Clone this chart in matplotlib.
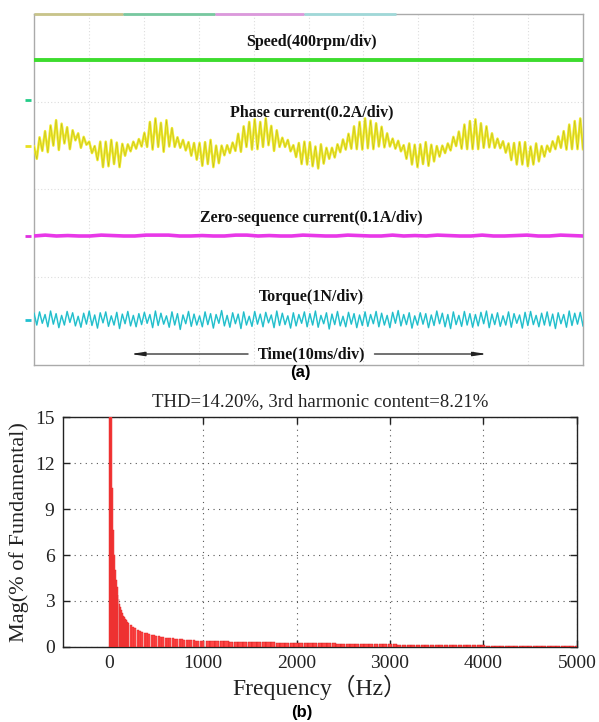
import numpy as np
import matplotlib
matplotlib.use("Agg")
import matplotlib.pyplot as plt

# ---------------- data: panel (a) oscilloscope traces (units: divisions) ----------------
speed_level = 6.95
marker_levels = [6.04, 5.0, 2.94, 1.03]
marker_colors = ["#22cc88", "#e8e020", "#e030e0", "#20c0d0"]

phase_center = 5.0
phase_offsets = [
    -0.02, -0.30, 0.19, -0.12, 0.33, -0.15, 0.46, 0.00, 0.58, -0.10, 0.50, 0.05, 0.42, -0.08, 0.35, 0.12, 0.28, -0.05, 0.20, 0.02,
    0.09, -0.17, -0.01, -0.33, 0.09, -0.49, 0.09, -0.47, 0.13, -0.42, 0.07, -0.49, 0.04, -0.23, 0.03, -0.13, 0.09, -0.07, 0.15, -0.02,
    0.29, -0.03, 0.54, -0.09, 0.62, -0.03, 0.52, -0.14, 0.58, -0.02, 0.40, -0.03, 0.19, -0.05, 0.13, -0.11, 0.08, -0.23, 0.06, -0.32,
    0.06, -0.46, 0.08, -0.42, 0.13, -0.49, 0.00, -0.40, 0.00, -0.22, 0.01, -0.17, 0.07, -0.12, 0.27, -0.14, 0.44, -0.03, 0.54, -0.09,
    0.60, -0.08, 0.54, -0.03, 0.62, 0.01, 0.45, -0.12, 0.35, -0.03, 0.18, -0.03, 0.13, -0.13, 0.01, -0.26, 0.06, -0.42, 0.09, -0.43,
    0.08, -0.47, -0.02, -0.52, 0.03, -0.41, -0.05, -0.30, -0.05, -0.27, 0.03, -0.15, 0.14, -0.09, 0.27, -0.07, 0.44, -0.08, 0.54, -0.09,
    0.62, -0.06, 0.57, -0.08, 0.51, -0.02, 0.43, -0.04, 0.28, -0.02, 0.16, -0.07, 0.11, -0.13, 0.01, -0.30, 0.05, -0.43, 0.02, -0.49,
    0.03, -0.42, 0.08, -0.46, 0.02, -0.36, -0.01, -0.25, 0.00, -0.17, 0.05, -0.11, 0.20, -0.01, 0.32, -0.07, 0.48, -0.08, 0.56, -0.08,
    0.60, -0.08, 0.51, -0.05, 0.44, -0.04, 0.28, -0.05, 0.16, -0.06, 0.10, -0.16, 0.05, -0.33, 0.06, -0.43, 0.08, -0.43, 0.08, -0.47,
    -0.02, -0.43, 0.05, -0.36, -0.01, -0.25, 0.00, -0.14, 0.10, -0.08, 0.21, -0.05, 0.33, -0.09, 0.48, -0.08, 0.56, -0.08, 0.62, -0.08,
]

zero_center = 2.94
zero_offsets = [
    0, 0.02, 0, 0.01, 0, 0, 0.02, 0.01, 0, 0, 0.02, 0.02, 0.02, 0, 0, 0.01, 0, 0, 0.02, 0.02,
    0, 0.01, 0, 0, 0.02, 0.01, 0, 0, 0.02, 0.01, 0, 0, 0.02, 0, 0.01, 0, 0.02, 0.01, 0, 0,
    0.02, 0, 0, 0.01, 0.02, 0, 0, 0.02, 0.01, 0,
]

torque_center = 1.03
torque_offsets = [
    0.15, -0.12, 0.18, -0.08, 0.12, -0.16, 0.20, -0.10, 0.14, -0.18, 0.10, -0.12, 0.19, -0.06, 0.16, -0.14, 0.08, -0.17, 0.15, -0.10,
    0.20, -0.13, 0.11, -0.19, 0.16, -0.07, 0.18, -0.15, 0.09, -0.12, 0.17, -0.20, 0.13, -0.09, 0.19, -0.14, 0.10, -0.16, 0.14, -0.11,
    0.17, -0.08, 0.12, -0.18, 0.20, -0.13, 0.15, -0.10, 0.09, -0.17, 0.18, -0.12, 0.14, -0.22, 0.11, -0.09, 0.19, -0.15, 0.13, -0.12,
    0.09, -0.16, 0.18, -0.11, 0.14, -0.19, 0.12, -0.08, 0.21, -0.14, 0.10, -0.17, 0.16, -0.09, 0.13, -0.20, 0.18, -0.12, 0.08, -0.15,
    0.19, -0.10, 0.13, -0.16, 0.17, -0.07, 0.11, -0.18, 0.20, -0.13, 0.15, -0.11, 0.09, -0.19, 0.16, -0.14, 0.12, -0.08, 0.18, -0.16,
    0.14, -0.12, 0.20, -0.17, 0.10, -0.09, 0.16, -0.21, 0.13, -0.11, 0.19, -0.14, 0.08, -0.16, 0.17, -0.10, 0.14, -0.18, 0.11, -0.13,
    0.18, -0.15, 0.12, -0.09, 0.19, -0.16, 0.15, -0.12, 0.10, -0.18, 0.17, -0.08, 0.21, -0.14, 0.12, -0.11, 0.16, -0.19, 0.09, -0.12,
    0.16, -0.10, 0.14, -0.18, 0.11, -0.13, 0.20, -0.09, 0.15, -0.16, 0.12, -0.20, 0.18, -0.11, 0.10, -0.15, 0.19, -0.12, 0.14, -0.17,
    0.12, -0.14, 0.17, -0.09, 0.20, -0.18, 0.13, -0.11, 0.16, -0.15, 0.09, -0.12, 0.18, -0.17, 0.14, -0.08, 0.11, -0.19, 0.17, -0.13,
    0.19, -0.11, 0.10, -0.16, 0.15, -0.12, 0.18, -0.14, 0.13, -0.20, 0.16, -0.09, 0.12, -0.17, 0.20, -0.13, 0.15, -0.10, 0.17, -0.14,
]

trace_labels = ["Speed(400rpm/div)", "Phase current(0.2A/div)",
                "Zero-sequence current(0.1A/div)", "Torque(1N/div)"]
label_levels = [7.36, 5.76, 3.35, 1.55]
time_label = "Time(10ms/div)"

# ---------------- data: panel (b) harmonic spectrum ----------------
freq_low = np.arange(0, 201, 10)
mag_low = [20.0, 100.0, 30.0, 10.4, 7.6, 6.0, 5.0, 4.4, 3.9, 3.4, 3.1,
           2.8, 2.6, 2.4, 2.2, 2.05, 1.95, 1.85, 1.75, 1.65, 1.55]
freq_mid = np.arange(225, 1001, 25)
mag_mid = [1.45, 1.32, 1.22, 1.12, 1.06, 0.98, 0.94, 0.88, 0.83, 0.79,
           0.76, 0.72, 0.70, 0.66, 0.64, 0.61, 0.60, 0.57, 0.56, 0.53,
           0.52, 0.50, 0.49, 0.48, 0.47, 0.45, 0.45, 0.43, 0.42, 0.42,
           0.41, 0.40]
freq_high = np.arange(1050, 5001, 50)
mag_high = [0.39, 0.38, 0.37, 0.37, 0.36, 0.35, 0.35, 0.34, 0.33, 0.33,
            0.32, 0.31, 0.31, 0.30, 0.30, 0.29, 0.28, 0.28, 0.27, 0.27,
            0.26, 0.26, 0.25, 0.25, 0.24, 0.24, 0.23, 0.23, 0.22, 0.22,
            0.21, 0.21, 0.20, 0.20, 0.19, 0.19, 0.18, 0.18, 0.18, 0.17,
            0.17, 0.16, 0.16, 0.15, 0.15, 0.15, 0.14, 0.14, 0.13, 0.13,
            0.13, 0.12, 0.12, 0.12, 0.11, 0.11, 0.11, 0.10, 0.10, 0.10,
            0.09, 0.09, 0.09, 0.09, 0.08, 0.08, 0.08, 0.08, 0.07, 0.07,
            0.07, 0.07, 0.06, 0.06, 0.06, 0.06, 0.06, 0.05, 0.05, 0.05]
x_ticks = [0, 1000, 2000, 3000, 4000, 5000]
y_ticks = [0, 3, 6, 9, 12, 15]
title_b = "THD=14.20%, 3rd harmonic content=8.21%"

# ---------------- figure ----------------
fig = plt.figure(figsize=(5.99, 7.22), dpi=100)
serif = ["Liberation Serif", "DejaVu Serif"]

# ---- panel (a) ----
axa = fig.add_axes([0.0568, 0.4945, 0.9165, 0.4861])
axa.set_xlim(0, 100)
axa.set_ylim(0, 8)
axa.set_xticks([])
axa.set_yticks([])
for s in axa.spines.values():
    s.set_color("#aaaaaa")
    s.set_linewidth(1.0)
for x in range(10, 100, 10):
    axa.axvline(x, color="#dddddd", lw=0.8, ls=(0, (1, 2)), zorder=0)
for y in (2, 4, 6):
    axa.axhline(y, color="#dddddd", lw=0.8, ls=(0, (1, 2)), zorder=0)

# top colour strip
strip = [(0, 16.2, "#c8c48a"), (16.2, 33.0, "#78c8a0"), (33.0, 49.2, "#dc98dc"), (49.2, 66.0, "#a0d8d8")]
for x0, x1, c in strip:
    axa.plot([x0, x1], [8, 8], color=c, lw=2.0, clip_on=False, zorder=5, solid_capstyle="butt")

t_speed = np.array([0, 100])
axa.plot(t_speed, [speed_level, speed_level], color="#3ddc2e", lw=2.8, zorder=3)

t_phase = np.linspace(0, 100, len(phase_offsets))
phase = phase_center + np.array(phase_offsets)
axa.plot(t_phase, phase, color="#efe92a", lw=1.8, zorder=3)
axa.plot(t_phase, phase, color="#5a5a10", lw=0.3, alpha=0.4, zorder=4)

t_zero = np.linspace(0, 100, len(zero_offsets))
zero = zero_center + np.array(zero_offsets)
axa.plot(t_zero, zero, color="#e838e8", lw=2.6, zorder=3)

t_torque = np.linspace(0, 100, len(torque_offsets))
torque = torque_center + np.array(torque_offsets)
axa.plot(t_torque, torque, color="#30d0dc", lw=1.1, zorder=3)
axa.plot(t_torque, torque, color="#107080", lw=0.25, alpha=0.5, zorder=4)

for lvl, c in zip(marker_levels, marker_colors):
    axa.plot([-1.6, -0.6], [lvl, lvl], color=c, lw=2.0, clip_on=False, solid_capstyle="butt")

for txt, lvl in zip(trace_labels, label_levels):
    axa.text(50.5, lvl, txt, ha="center", va="center", fontsize=11.5,
             fontweight="bold", family=serif, color="#111111", zorder=6)

axa.text(50.5, 0.25, time_label, ha="center", va="center", fontsize=11.5,
         fontweight="bold", family=serif, color="#111111", zorder=6)
axa.annotate("", xy=(17.1, 0.25), xytext=(39.5, 0.25),
             arrowprops=dict(arrowstyle="-|>,head_length=0.8,head_width=0.12", color="#222222", lw=0.9))
axa.annotate("", xy=(83.0, 0.25), xytext=(61.5, 0.25),
             arrowprops=dict(arrowstyle="-|>,head_length=0.8,head_width=0.12", color="#222222", lw=0.9))

fig.text(0.501, 1 - 372 / 722, "(a)", ha="center", va="center", fontsize=12,
         fontweight="bold", family=["Liberation Sans", "DejaVu Sans"])

# ---- panel (b) ----
axb = fig.add_axes([0.105, 0.1039, 0.858, 0.3185])
axb.bar(freq_low, mag_low, width=9.5, color="#ff4646", edgecolor="#e02020", linewidth=0.3, zorder=3)
axb.bar(freq_mid, mag_mid, width=23, color="#ff4646", edgecolor="#e02020", linewidth=0.3, zorder=3)
axb.bar(freq_high, mag_high, width=45, color="#ff4646", edgecolor="#c81010", linewidth=0.3, zorder=3)
axb.set_xlim(-500, 5000)
axb.set_ylim(0, 15)
axb.set_xticks(x_ticks)
axb.set_yticks(y_ticks)
axb.grid(True, color="#555555", lw=0.8, ls=(0, (1, 4)), zorder=0)
axb.tick_params(direction="in", top=True, right=True, length=5, width=1,
                labelsize=14, pad=6, colors="#222222")
for lab in axb.get_xticklabels() + axb.get_yticklabels():
    lab.set_family(serif)
for s in axb.spines.values():
    s.set_color("#222222")
    s.set_linewidth(1.0)
axb.set_title(title_b, fontsize=13.5, family=serif, pad=8, color="#222222")
axb.set_xlabel("Frequency（Hz）", fontsize=17,
               family=["Liberation Serif", "Noto Sans CJK SC", "DejaVu Serif"], labelpad=2,
               color="#222222")
axb.set_ylabel("Mag(% of Fundamental)", fontsize=16, family=serif, labelpad=4, color="#222222")

fig.text(0.504, 1 - 712 / 722, "(b)", ha="center", va="center", fontsize=12,
         fontweight="bold", family=["Liberation Sans", "DejaVu Sans"])

fig.savefig("out.png", dpi=100)
